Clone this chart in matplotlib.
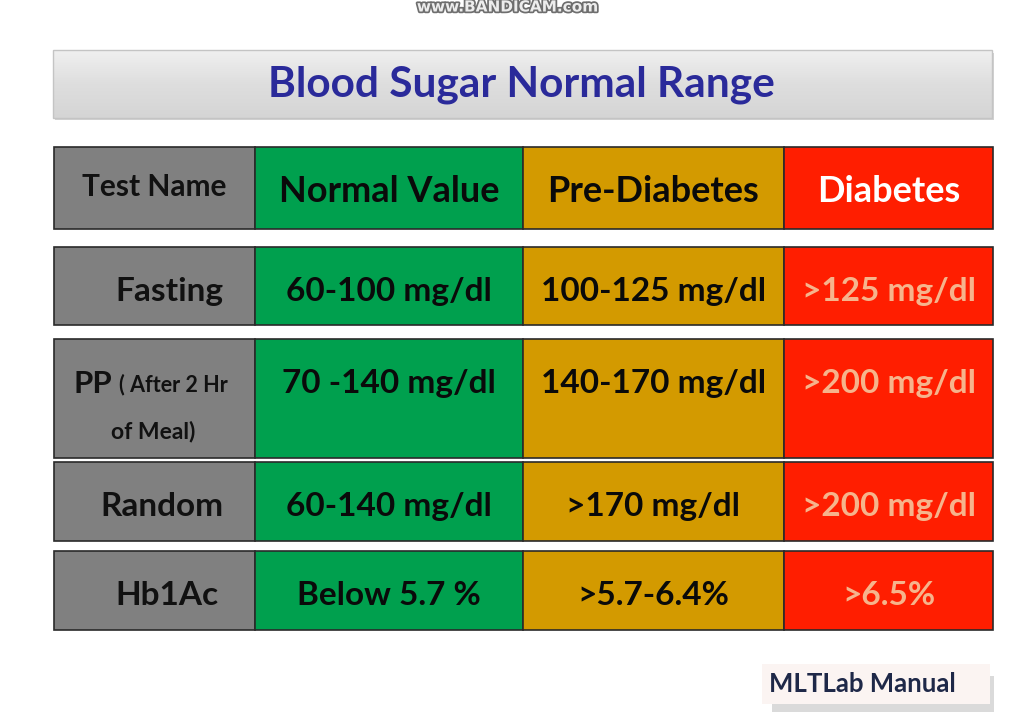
import matplotlib
matplotlib.use("Agg")
import matplotlib.pyplot as plt
import matplotlib.patheffects as pe
from matplotlib.patches import Rectangle
import numpy as np

# ---- data ----
title = "Blood Sugar Normal Range"
headers = ["Test Name", "Normal Value", "Pre-Diabetes", "Diabetes"]
tests = ["Fasting", "PP", "Random", "Hb1Ac"]
pp_note = ["( After 2 Hr", "of Meal)"]
normal_values = ["60-100 mg/dl", "70 -140 mg/dl", "60-140 mg/dl", "Below 5.7 %"]
prediabetes_values = ["100-125 mg/dl", "140-170 mg/dl", ">170 mg/dl", ">5.7-6.4%"]
diabetes_values = [">125 mg/dl", ">200 mg/dl", ">200 mg/dl", ">6.5%"]
watermark = "www.BANDICAM.com"
credit = "MLTLab Manual"

# ---- layout (pixel coordinates) ----
W, H = 1016, 720
col_edges = [54, 255, 523, 784, 993]
header_rows = (147, 229)
row_bounds = [(247, 325), (339, 458), (462, 541), (551, 630)]
col_colors = ["#808080", "#00A04E", "#D39A00", "#FF1E00"]
body_text_colors = ["#111111", "#0A0A0A", "#0A0A0A", "#F6B48C"]
header_text_colors = ["#111111", "#0A0A0A", "#0A0A0A", "#FFFFFF"]
FONT = "Lato"

fig = plt.figure(figsize=(W / 100, H / 100), dpi=100)
ax = fig.add_axes([0, 0, 1, 1])
ax.set_xlim(0, W)
ax.set_ylim(H, 0)
ax.axis("off")
fig.patch.set_facecolor("white")

# watermark
ax.text(507, 7, watermark, ha="center", va="center", fontsize=11, fontweight="bold",
        family="DejaVu Sans", color="#EDEDED",
        path_effects=[pe.withStroke(linewidth=2.5, foreground="#6E6E6E")])

# title banner with gradient and shadow
ax.add_patch(Rectangle((55, 53), 939, 67, facecolor="#D2D2D2", edgecolor="none", zorder=1))
grad = np.linspace(0, 1, 100).reshape(-1, 1)
cmap = matplotlib.colors.LinearSegmentedColormap.from_list("g", ["#F0F0F0", "#DEDEDE", "#D5D5D5"])
ax.imshow(grad, extent=(53, 992, 118, 50), cmap=cmap, aspect="auto", zorder=2)
ax.add_patch(Rectangle((53, 50), 939, 68, facecolor="none", edgecolor="#C4C4C4", linewidth=1, zorder=3))
ax.text(521, 85, title, ha="center", va="center", fontsize=30.5, fontweight="bold",
        family=FONT, color="#2A2A9A", zorder=4)


def draw_row(y0, y1, zorder=2):
    for j in range(4):
        ax.add_patch(Rectangle((col_edges[j], y0), col_edges[j + 1] - col_edges[j], y1 - y0,
                               facecolor=col_colors[j], edgecolor="#2A2A2A", linewidth=1.2, zorder=zorder))


# header
draw_row(*header_rows)
ax.text((col_edges[0] + col_edges[1]) / 2, 187, headers[0], ha="center", va="center",
        fontsize=21.5, fontweight="bold", family=FONT, color=header_text_colors[0], zorder=5)
for j in range(1, 4):
    ax.text((col_edges[j] + col_edges[j + 1]) / 2, 192, headers[j], ha="center", va="center",
            fontsize=26, fontweight="bold", family=FONT, color=header_text_colors[j], zorder=5)

# body rows
name_x = [169, None, 162, 167]
columns = [normal_values, prediabetes_values, diabetes_values]
for i, (y0, y1) in enumerate(row_bounds):
    draw_row(y0, y1)
    ty = 384 if i == 1 else (y0 + y1) / 2 + 5
    if i == 1:
        ax.text(74, ty, tests[i], ha="left", va="center", fontsize=22.5, fontweight="bold",
                family=FONT, color=body_text_colors[0], zorder=5)
        ax.text(119, ty + 1, pp_note[0], ha="left", va="center", fontsize=15.5, fontweight="bold",
                family=FONT, color=body_text_colors[0], zorder=5)
        ax.text(153, 432, pp_note[1], ha="center", va="center", fontsize=16.5, fontweight="bold",
                family=FONT, color=body_text_colors[0], zorder=5)
    else:
        ax.text(name_x[i], ty, tests[i], ha="center", va="center", fontsize=24, fontweight="bold",
                family=FONT, color=body_text_colors[0], zorder=5)
    for j, vals in enumerate(columns, start=1):
        ax.text((col_edges[j] + col_edges[j + 1]) / 2, ty, vals[i], ha="center", va="center",
                fontsize=24, fontweight="bold", family=FONT, color=body_text_colors[j], zorder=5)

# credit box with shadow
ax.add_patch(Rectangle((772, 676), 222, 36, facecolor="#BDBDBD", edgecolor="none", alpha=0.55, zorder=1))
ax.add_patch(Rectangle((762, 664), 228, 40, facecolor="#FBF4F2", edgecolor="none", zorder=2))
ax.text(769, 684, credit, ha="left", va="center", fontsize=18.5, fontweight="bold",
        family=FONT, color="#1E2848", zorder=5)

fig.savefig("out.png", dpi=100, facecolor="white")
